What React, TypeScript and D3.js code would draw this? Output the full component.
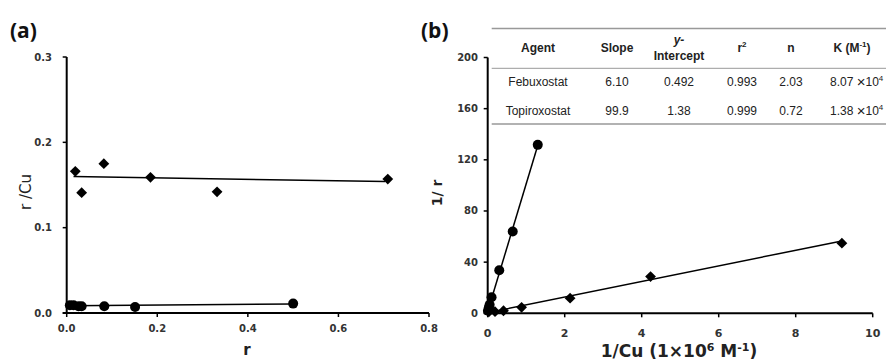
import React from "react";
import * as d3 from "d3";

// Panel (a): Scatchard plot
const aDiamondR = [0.019, 0.033, 0.082, 0.185, 0.332, 0.709];
const aDiamondRCu = [0.166, 0.141, 0.175, 0.159, 0.142, 0.157];
const aDiamondFitR = [0.015, 0.703];
const aDiamondFitRCu = [0.160, 0.154];
const aCircleR = [0.007, 0.015, 0.026, 0.033, 0.083, 0.151, 0.5];
const aCircleRCu = [0.009, 0.009, 0.008, 0.008, 0.008, 0.007, 0.011];
const aCircleFitR = [0.007, 0.5];
const aCircleFitRCu = [0.0085, 0.0105];
const aXTicks = [0, 0.2, 0.4, 0.6, 0.8];
const aYTicks = [0, 0.1, 0.2, 0.3];

// Panel (b): double reciprocal plot
const bCircleInvCu = [0.006, 0.03, 0.05, 0.1, 0.3, 0.65, 1.3];
const bCircleInvR = [2.0, 4.5, 6.6, 12.5, 33.6, 63.9, 131.7];
const bDiamondInvCu = [0.03, 0.19, 0.41, 0.88, 2.14, 4.23, 9.2];
const bDiamondInvR = [1.2, 1.3, 2.0, 4.7, 11.8, 28.7, 54.8];
const bXTicks = [0, 2, 4, 6, 8, 10];
const bYTicks = [0, 40, 80, 120, 160, 200];

// Table
const agents = ["Febuxostat", "Topiroxostat"];
const slopes = [6.1, 99.9];
const intercepts = [0.492, 1.38];
const rSquared = [0.993, 0.999];
const nValues = [2.03, 0.72];
const kMantissa = ["8.07", "1.38"];
const kExponent = ["4", "4"];
const fitMaxX = [9.2, 1.3];

const TICK_FONT = "'DejaVu Sans', sans-serif";
const TABLE_FONT = "'Liberation Sans', Arial, sans-serif";

function diamond(cx: number, cy: number, s: number) {
  return `M${cx},${cy - s}L${cx + s},${cy}L${cx},${cy + s}L${cx - s},${cy}Z`;
}

export default function App() {
  const ax = d3.scaleLinear().domain([0, 0.8]).range([66.7, 429]);
  const ay = d3.scaleLinear().domain([0, 0.3]).range([313, 57]);
  const bx = d3.scaleLinear().domain([0, 10]).range([487.7, 872.7]);
  const by = d3.scaleLinear().domain([0, 200]).range([313.3, 57.5]);
  const line = d3.line<[number, number]>();

  const aDiaFit = line(aDiamondFitR.map((r, i) => [ax(r), ay(aDiamondFitRCu[i])]))!;
  const aCirFit = line(aCircleFitR.map((r, i) => [ax(r), ay(aCircleFitRCu[i])]))!;
  const bFeb = line([0, fitMaxX[0]].map((x) => [bx(x), by(slopes[0] * x + intercepts[0])]))!;
  const bTop = line([0, fitMaxX[1]].map((x) => [bx(x), by(slopes[1] * x + intercepts[1])]))!;

  const colX = [538, 617, 679, 742, 791, 852];
  const tableLeft = 491.7;

  return (
    <svg width={886} height={360} style={{ position: "absolute", left: 0, top: 0, background: "#fff" }}>
      {/* Panel labels */}
      <text x={10} y={38} fontFamily="'Open Sans', sans-serif" fontWeight="bold" fontSize={21} fill="#111">(a)</text>
      <text x={421} y={38} fontFamily="'Open Sans', sans-serif" fontWeight="bold" fontSize={21} fill="#111">(b)</text>

      {/* ===== Panel a ===== */}
      <g>
        <line x1={ax(0)} x2={ax(0)} y1={ay(0.3)} y2={ay(0)} stroke="#000" strokeWidth={2} />
        <line x1={ax(0) - 4} x2={ax(0.8)} y1={ay(0)} y2={ay(0)} stroke="#000" strokeWidth={2} />
        {aYTicks.map((t) => (
          <g key={"ay" + t}>
            <line x1={ax(0) - 4} x2={ax(0)} y1={ay(t)} y2={ay(t)} stroke="#000" strokeWidth={1.5} />
            <text x={52} y={ay(t) + 3.5} textAnchor="end" fontFamily={TICK_FONT} fontWeight="bold" fontSize={10} fill="#333">{t.toFixed(1)}</text>
          </g>
        ))}
        {aXTicks.map((t) => (
          <g key={"ax" + t}>
            <line x1={ax(t)} x2={ax(t)} y1={ay(0)} y2={ay(0) + 4} stroke="#000" strokeWidth={1.5} />
            <text x={ax(t)} y={332} textAnchor="middle" fontFamily={TICK_FONT} fontWeight="bold" fontSize={10} fill="#333">{t.toFixed(1)}</text>
          </g>
        ))}
        <text x={247} y={355} textAnchor="middle" fontFamily={TICK_FONT} fontWeight="bold" fontSize={15} fill="#222">r</text>
        <text transform={`translate(31,192) rotate(-90)`} textAnchor="middle" fontFamily={TICK_FONT} fontSize={15} fill="#222">r /Cu</text>

        <path d={aDiaFit} stroke="#000" strokeWidth={1.5} fill="none" />
        <path d={aCirFit} stroke="#000" strokeWidth={1.5} fill="none" />
        {aDiamondR.map((r, i) => (
          <path key={"ad" + i} d={diamond(ax(r), ay(aDiamondRCu[i]), 5.4)} fill="#000" />
        ))}
        {aCircleR.map((r, i) => (
          <circle key={"ac" + i} cx={ax(r)} cy={ay(aCircleRCu[i])} r={5} fill="#000" />
        ))}
      </g>

      {/* ===== Panel b ===== */}
      <g>
        <line x1={bx(0)} x2={bx(0)} y1={by(200)} y2={by(0)} stroke="#000" strokeWidth={2} />
        <line x1={bx(0) - 4} x2={bx(10)} y1={by(0)} y2={by(0)} stroke="#000" strokeWidth={2} />
        {bYTicks.map((t) => (
          <g key={"by" + t}>
            <line x1={bx(0) - 4} x2={bx(0)} y1={by(t)} y2={by(t)} stroke="#000" strokeWidth={1.5} />
            <text x={478} y={by(t) + 3.5} textAnchor="end" fontFamily={TICK_FONT} fontWeight="bold" fontSize={10} fill="#333">{t}</text>
          </g>
        ))}
        {bXTicks.map((t) => (
          <g key={"bx" + t}>
            <line x1={bx(t)} x2={bx(t)} y1={by(0)} y2={by(0) + 4} stroke="#000" strokeWidth={1.5} />
            <text x={bx(t)} y={337} textAnchor="middle" fontFamily={TICK_FONT} fontWeight="bold" fontSize={11} fill="#333">{t}</text>
          </g>
        ))}
        <text x={679} y={357} textAnchor="middle" fontFamily={TICK_FONT} fontWeight="bold" fontSize={17} fill="#222">
          1/Cu (1×10<tspan dy={-6} fontSize={11}>6</tspan><tspan dy={6}> M</tspan><tspan dy={-6} fontSize={11}>-1</tspan><tspan dy={6}>)</tspan>
        </text>
        <text transform={`translate(442,193) rotate(-90)`} textAnchor="middle" fontFamily={TICK_FONT} fontWeight="bold" fontSize={14} fill="#222">1/ r</text>

        <path d={bFeb} stroke="#000" strokeWidth={1.5} fill="none" />
        <path d={bTop} stroke="#000" strokeWidth={1.5} fill="none" />
        {bDiamondInvCu.map((x, i) => (
          <path key={"bd" + i} d={diamond(bx(x), by(bDiamondInvR[i]), 5.4)} fill="#000" />
        ))}
        {bCircleInvCu.map((x, i) => (
          <circle key={"bc" + i} cx={bx(x)} cy={by(bCircleInvR[i])} r={5} fill="#000" />
        ))}

        {/* Table */}
        <rect x={tableLeft} y={29} width={886 - tableLeft} height={95} fill="#fff" />
        <line x1={tableLeft} x2={886} y1={28.5} y2={28.5} stroke="#999" strokeWidth={1.3} />
        <line x1={tableLeft} x2={886} y1={68.3} y2={68.3} stroke="#999" strokeWidth={1} />
        <line x1={tableLeft} x2={886} y1={124} y2={124} stroke="#999" strokeWidth={1.3} />
        <g fontFamily={TABLE_FONT} fontSize={12} fill="#222" textAnchor="middle">
          <text x={colX[0]} y={52} fontWeight="bold">Agent</text>
          <text x={colX[1]} y={52} fontWeight="bold">Slope</text>
          <text x={colX[2]} y={44} fontWeight="bold" fontStyle="italic">y-</text>
          <text x={colX[2]} y={60} fontWeight="bold">Intercept</text>
          <text x={colX[3]} y={52} fontWeight="bold">r<tspan dy={-5} fontSize={8}>2</tspan></text>
          <text x={colX[4]} y={52} fontWeight="bold">n</text>
          <text x={colX[5]} y={52} fontWeight="bold">K (M<tspan dy={-5} fontSize={8}>-1</tspan><tspan dy={5}>)</tspan></text>
          {agents.map((a, i) => {
            const y = 85.5 + i * 29;
            return (
              <g key={"row" + i}>
                <text x={colX[0]} y={y}>{a}</text>
                <text x={colX[1]} y={y}>{slopes[i].toFixed(slopes[i] < 10 ? 2 : 1)}</text>
                <text x={colX[2]} y={y}>{String(intercepts[i])}</text>
                <text x={colX[3]} y={y}>{rSquared[i].toFixed(3)}</text>
                <text x={colX[4]} y={y}>{nValues[i].toFixed(2)}</text>
                <text x={830} y={y} textAnchor="start">{kMantissa[i]} <tspan fontSize={15} dy={1}>×</tspan><tspan dy={-1}>10</tspan><tspan dy={-5} fontSize={8}>{kExponent[i]}</tspan></text>
              </g>
            );
          })}
        </g>
      </g>
    </svg>
  );
}
